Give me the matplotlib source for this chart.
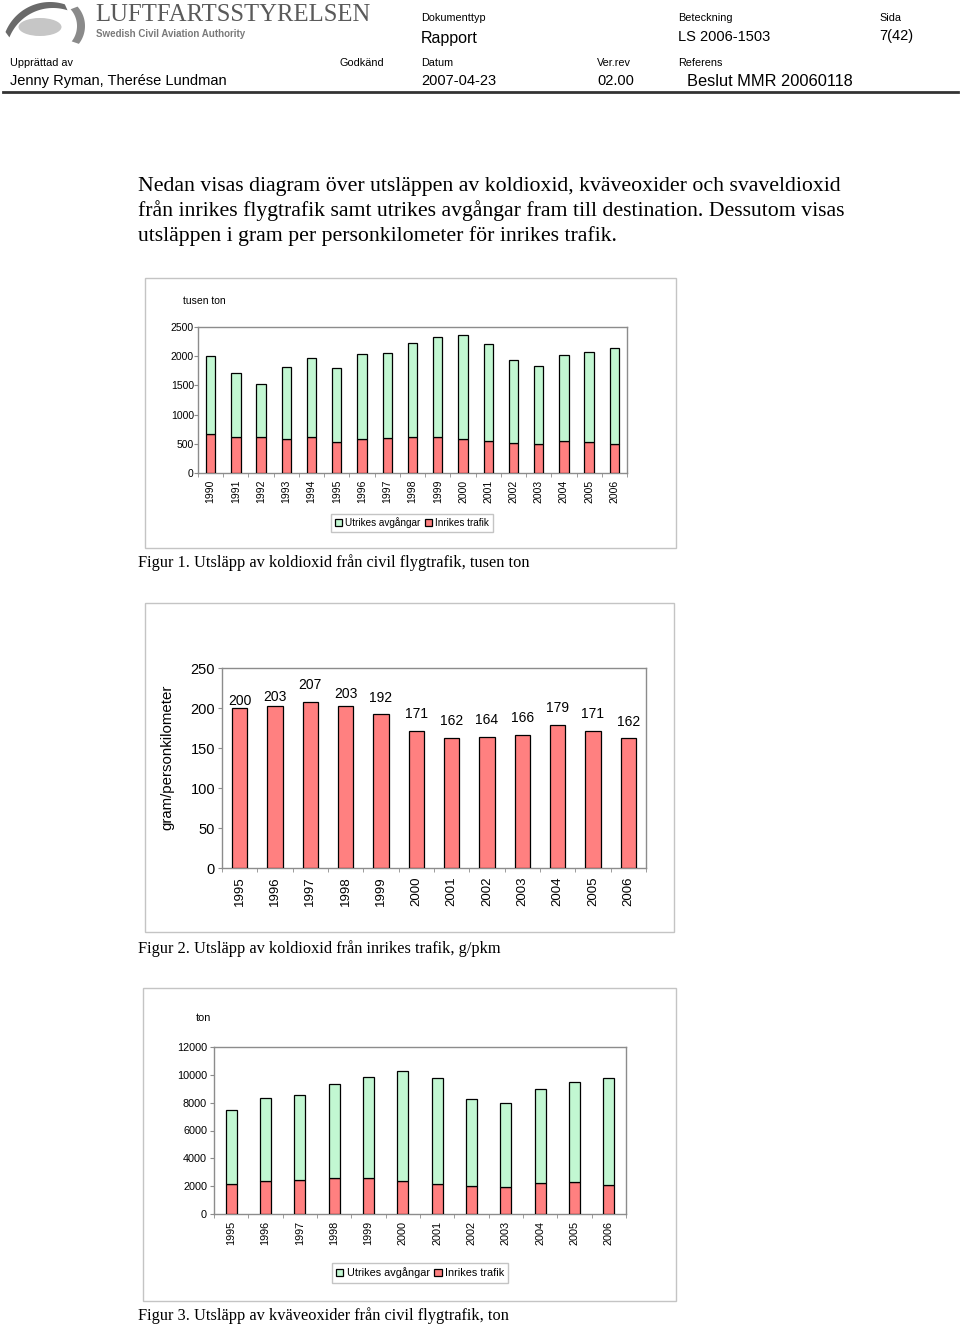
import numpy as np
import matplotlib.pyplot as plt
from matplotlib.patches import Rectangle, Ellipse, Polygon

# =========================
# DATA
# =========================

YEARS_CO2 = ["1990", "1991", "1992", "1993", "1994", "1995", "1996", "1997", "1998",
             "1999", "2000", "2001", "2002", "2003", "2004", "2005", "2006"]
CO2_INRIKES = [665, 608, 625, 585, 608, 533, 585, 596, 625, 625, 585, 556, 522, 493, 556, 539, 505]
CO2_UTRIKES = [1335, 1097, 900, 1233, 1364, 1267, 1445, 1451, 1594, 1703, 1772, 1657, 1416, 1342, 1462, 1525, 1634]

YEARS_PKM = ["1995", "1996", "1997", "1998", "1999", "2000", "2001", "2002", "2003", "2004", "2005", "2006"]
CO2_PKM = [200, 203, 207, 203, 192, 171, 162, 164, 166, 179, 171, 162]

YEARS_NOX = ["1995", "1996", "1997", "1998", "1999", "2000", "2001", "2002", "2003", "2004", "2005", "2006"]
NOX_INRIKES = [2150, 2370, 2460, 2600, 2600, 2370, 2150, 2010, 1960, 2220, 2320, 2100]
NOX_UTRIKES = [5330, 6000, 6070, 6740, 7270, 7930, 7630, 6240, 6000, 6770, 7170, 7680]

PARAGRAPH = [
    "Nedan visas diagram över utsläppen av koldioxid, kväveoxider och svaveldioxid",
    "från inrikes flygtrafik samt utrikes avgångar fram till destination. Dessutom visas",
    "utsläppen i gram per personkilometer för inrikes trafik.",
]

# =========================
# STYLE
# =========================

W, H = 960, 1327
GREEN = "#c2f7d2"
RED = "#ff8080"
AXIS_GREY = "#8c8c8c"
FRAME_GREY = "#c4c4c4"
SANS = ["Liberation Sans", "DejaVu Sans"]
NARROW = ["Liberation Sans Narrow", "Liberation Sans", "DejaVu Sans"]
SERIF = ["Liberation Serif", "DejaVu Serif"]

# gap (px) between bar top and centre of its value label in figure 2
PKM_LABEL_GAP = [7, 9, 17, 12, 16, 17, 17, 17, 17, 17, 17, 16]

fig = plt.figure(figsize=(W / 100, H / 100), dpi=100)


def put(x, y, s, size, family=SANS, **kw):
    kw.setdefault("va", "center")
    fig.text(x / W, 1 - y / H, s, fontsize=size, family=family, **kw)


def px_axes(x0, y0, x1, y1):
    return fig.add_axes([x0 / W, 1 - y1 / H, (x1 - x0) / W, (y1 - y0) / H])


def frame(x0, y0, x1, y1, color=FRAME_GREY, lw=1.0):
    fig.add_artist(Rectangle((x0 / W, 1 - y1 / H), (x1 - x0) / W, (y1 - y0) / H,
                             transform=fig.transFigure, fill=False,
                             edgecolor=color, linewidth=lw))


def style_axes(ax, n, fs_y, fs_x, ypad, xpad):
    ax.set_xlim(-0.5, n - 0.5)
    for side in ["top", "right", "left", "bottom"]:
        ax.spines[side].set_color(AXIS_GREY)
        ax.spines[side].set_linewidth(1.0)
    ax.tick_params(axis="y", length=3, color=AXIS_GREY, labelsize=fs_y, pad=ypad)
    ax.tick_params(axis="x", which="major", length=0, labelsize=fs_x, pad=xpad, rotation=90)
    ax.set_xticks([i - 0.5 for i in range(n + 1)], minor=True)
    ax.tick_params(axis="x", which="minor", length=3, color=AXIS_GREY)
    for lab in ax.get_xticklabels() + ax.get_yticklabels():
        lab.set_family(SANS)


def stacked(rect, cats, inrikes, utrikes, ymax, ystep, width, fs, ypad, unit, unit_xy, leg_xy, leg_fs):
    ax = px_axes(*rect)
    x = list(range(len(cats)))
    ax.bar(x, inrikes, width=width, color=RED, edgecolor="black", linewidth=0.9,
           label="Inrikes trafik", zorder=3)
    ax.bar(x, utrikes, width=width, bottom=inrikes, color=GREEN, edgecolor="black",
           linewidth=0.9, label="Utrikes avgångar", zorder=3)
    ax.set_ylim(0, ymax)
    ax.set_yticks(range(0, ymax + 1, ystep))
    ax.set_xticks(x)
    ax.set_xticklabels(cats)
    style_axes(ax, len(cats), fs, fs, ypad, 5)
    put(unit_xy[0], unit_xy[1], unit, fs)
    h, l = ax.get_legend_handles_labels()
    ax.legend(h[::-1], l[::-1], loc="center", ncol=2,
              bbox_to_anchor=(leg_xy[0] / W, 1 - leg_xy[1] / H),
              bbox_transform=fig.transFigure, frameon=True, fancybox=False,
              edgecolor=FRAME_GREY, framealpha=1, handlelength=0.7, handleheight=0.7,
              handletextpad=0.3, columnspacing=0.4, borderpad=0.4,
              prop={"family": SANS, "size": leg_fs})
    return ax


def crescent(ax, c_out, r_out, c_in, r_in, a0, a1, color):
    t = np.radians(np.linspace(a0, a1, 40))
    outer = np.column_stack([c_out[0] + r_out * np.cos(t), c_out[1] + r_out * np.sin(t)])
    inner = np.column_stack([c_in[0] + r_in * np.cos(t[::-1]), c_in[1] + r_in * np.sin(t[::-1])])
    ax.add_patch(Polygon(np.vstack([outer, inner]), closed=True, color=color, lw=0))


# =========================
# HEADER
# =========================

logo = px_axes(0, 0, 95, 48)
logo.set_xlim(0, 95)
logo.set_ylim(0, 48)
logo.axis("off")
logo.add_patch(Ellipse((40, 48 - 27), 43, 18, color="#c6c6c6", lw=0))
crescent(logo, (50, 48 - 50), 48, (53, 48 - 55), 47, 72, 158, "#6a6a6a")
crescent(logo, (56, 48 - 26), 29, (52, 48 - 26), 25, -38, 42, "#8a8a8a")

put(95, 15, "LUFTFARTSSTYRELSEN", 17.8, family=SERIF, color="#5a5a5a")
put(96, 34, "Swedish Civil Aviation Authority", 7, family=SANS, color="#7a7a7a",
    fontweight="bold")

put(421, 18, "Dokumenttyp", 7.8, family=NARROW)
put(421, 38, "Rapport", 11.5, family=NARROW)
put(678, 18, "Beteckning", 7.8, family=NARROW)
put(678, 37, "LS 2006-1503", 10.5, family=NARROW)
put(879, 18, "Sida", 7.8, family=NARROW)
put(879, 36, "7(42)", 10.5, family=NARROW)

put(10, 63, "Upprättad av", 7.8, family=NARROW)
put(340, 63, "Godkänd", 7.8, family=NARROW)
put(421, 63, "Datum", 7.8, family=NARROW)
put(597, 63, "Ver.rev", 7.8, family=NARROW)
put(678, 63, "Referens", 7.8, family=NARROW)
put(10, 81, "Jenny Ryman, Therése Lundman", 10.5, family=NARROW)
put(421, 81, "2007-04-23", 10.5, family=NARROW)
put(597, 81, "02.00", 10.5, family=NARROW)
put(687, 82, "Beslut MMR 20060118", 11.8, family=NARROW)

fig.add_artist(plt.Line2D([3 / W, 958 / W], [1 - 92 / H, 1 - 92 / H],
                          transform=fig.transFigure, color="#333333", linewidth=2))

# =========================
# BODY TEXT
# =========================

for i, line in enumerate(PARAGRAPH):
    put(138, 186 + 25 * i, line, 15.7, family=SERIF)

# =========================
# FIGUR 1
# =========================

frame(145, 278, 676, 548)
stacked((198, 327, 627, 473), YEARS_CO2, CO2_INRIKES, CO2_UTRIKES, 2500, 500, 0.37,
        7.5, 0, "tusen ton", (183, 301), (412, 523), 7.2)
put(138, 563, "Figur 1. Utsläpp av koldioxid från civil flygtrafik, tusen ton", 11.8, family=SERIF)

# =========================
# FIGUR 2
# =========================

frame(145, 603, 674, 932)
ax2 = px_axes(222, 668, 646, 868)
x2 = list(range(len(YEARS_PKM)))
ax2.bar(x2, CO2_PKM, width=0.43, color=RED, edgecolor="black", linewidth=0.9, zorder=3)
ax2.set_ylim(0, 250)
ax2.set_yticks(range(0, 251, 50))
ax2.set_xticks(x2)
ax2.set_xticklabels(YEARS_PKM)
style_axes(ax2, len(YEARS_PKM), 10.5, 9.5, 2, 6)
for xi, v, gap in zip(x2, CO2_PKM, PKM_LABEL_GAP):
    ax2.annotate(str(v), (xi, v), xytext=(0, gap * 0.72), textcoords="offset points",
                 ha="center", va="center", fontsize=10, family=SANS, annotation_clip=False)
put(167, 757, "gram/personkilometer", 10.8, rotation=90, ha="center")
put(138, 949, "Figur 2. Utsläpp av koldioxid från inrikes trafik, g/pkm", 11.8, family=SERIF)

# =========================
# FIGUR 3
# =========================

frame(143, 988, 676, 1301)
stacked((214, 1047, 626, 1214), YEARS_NOX, NOX_INRIKES, NOX_UTRIKES, 12000, 2000, 0.32,
        7.8, 2, "ton", (196, 1018), (420, 1273), 7.8)
put(138, 1316, "Figur 3. Utsläpp av kväveoxider från civil flygtrafik, ton", 11.8, family=SERIF)

fig.savefig("out.png", dpi=100, facecolor="white")
